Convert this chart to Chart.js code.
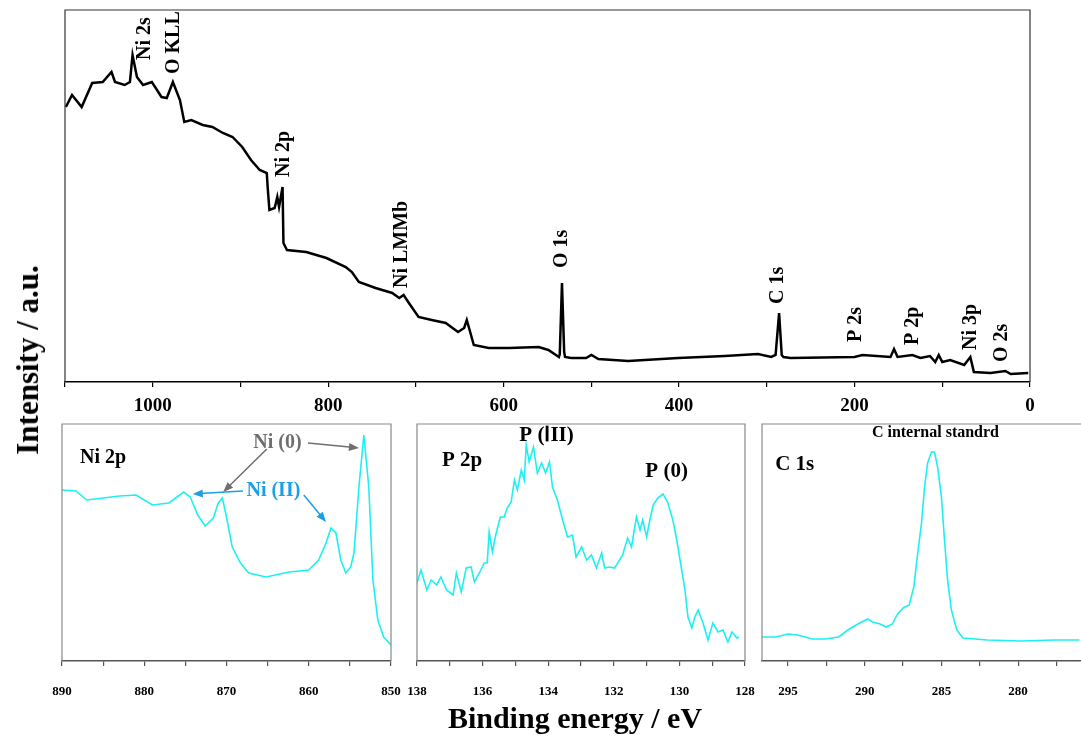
<!DOCTYPE html>
<html>
<head>
<meta charset="utf-8">
<script src="https://cdn.jsdelivr.net/npm/chart.js@4/dist/chart.umd.min.js"></script>
<style>
html, body { margin: 0; padding: 0; background: #fff; overflow: hidden; }
#wrap { position: relative; width: 1081px; height: 737px; }
canvas { position: absolute; left: 0; top: 0; }
.title { position: absolute; font-family: "Liberation Serif", serif; font-weight: bold; color: #000; white-space: nowrap; }
#ytitle { left: 28px; top: 360px; font-size: 31px; transform: translate(-50%, -50%) rotate(-90deg); }
#xtitle { left: 575px; top: 718px; font-size: 30px; transform: translate(-50%, -50%); }
</style>
</head>
<body>
<div id="wrap">
  <canvas id="survey" width="1081" height="737"></canvas>
  <canvas id="ni2p" width="1081" height="737"></canvas>
  <canvas id="p2p" width="1081" height="737"></canvas>
  <canvas id="c1s" width="1081" height="737"></canvas>
  <div class="title" id="ytitle">Intensity / a.u.</div>
  <div class="title" id="xtitle">Binding energy / eV</div>
</div>
<script>
// survey spectrum (eV, a.u.)
var surveyEnergy = [1099, 1092, 1081, 1069, 1057, 1047, 1043, 1032, 1026, 1023, 1018, 1011, 1001, 990, 984, 977, 969, 964, 956, 943, 932, 920, 909, 898, 888, 878, 870, 869, 867, 861, 858, 856, 853, 852, 851, 847, 825, 802, 780, 773, 765, 746, 727, 719, 714, 708, 697, 682, 666, 652, 645, 642, 634, 617, 594, 560, 549, 537, 536, 533.5, 531, 530, 523, 506, 500, 492, 458, 401, 348, 310, 295, 290, 286, 283, 281, 273, 200, 191, 159, 155, 151, 134, 125, 114, 108, 104, 100, 91, 75, 68, 64, 45, 28, 22, 2];
var surveyIntensity = [275, 287, 275, 299, 300, 310, 300, 297, 300, 327, 305, 297, 300, 285, 284, 300, 282, 260, 262, 257, 255, 249, 245, 235, 222, 212, 209, 195, 172, 174, 185, 175, 190, 195, 139, 132, 130, 124, 115, 110, 100, 94, 89, 84, 87, 79, 65, 62, 59, 50, 54, 62, 37, 34, 34, 35, 32, 25, 28, 99, 30, 25, 24, 24, 27, 23, 21, 24, 26, 28, 25, 27, 69, 27, 25, 24, 25, 27, 25, 33, 25, 27, 24, 26, 20, 27, 20, 22, 17, 25, 10, 9, 11, 8, 9];

// Ni 2p
var ni2pEnergy = [890, 888.3, 887, 885, 883, 881, 879, 877, 875.2, 874.4, 873.5, 872.6, 871.6, 871.0, 870.5, 870.1, 869.3, 868.3, 867.3, 865.2, 862.4, 860, 858.8, 857.9, 857.3, 856.7, 856.1, 855.5, 854.9, 854.5, 853.9, 853.3, 852.7, 852.2, 851.6, 850.9, 850.0];
var ni2pIntensity = [171, 170, 161, 163, 165, 166, 156, 158, 169, 164, 146, 135, 143, 158, 163, 148, 114, 98, 88, 84, 89, 91, 101, 118, 133, 128, 101, 88, 94, 108, 174, 226, 174, 81, 41, 24, 16];

// P 2p
var p2pEnergy = [138.0, 137.88, 137.7, 137.57, 137.4, 137.27, 137.1, 136.9, 136.8, 136.65, 136.5, 136.35, 136.25, 136.1, 135.95, 135.86, 135.8, 135.7, 135.6, 135.46, 135.34, 135.25, 135.13, 135.03, 134.94, 134.82, 134.73, 134.67, 134.58, 134.45, 134.33, 134.2, 134.08, 133.96, 133.87, 133.72, 133.56, 133.41, 133.26, 133.15, 132.98, 132.83, 132.68, 132.53, 132.37, 132.28, 132.13, 131.98, 131.88, 131.73, 131.58, 131.46, 131.31, 131.2, 131.12, 131.0, 130.9, 130.8, 130.66, 130.5, 130.36, 130.2, 130.08, 129.93, 129.83, 129.74, 129.62, 129.53, 129.43, 129.28, 129.13, 128.98, 128.82, 128.67, 128.52, 128.4, 128.25, 128.18];
var p2pIntensity = [78, 91, 71, 81, 76, 84, 71, 66, 88, 69, 93, 94, 79, 88, 98, 98, 129, 109, 126, 144, 144, 153, 159, 181, 171, 191, 181, 216, 199, 214, 188, 198, 188, 199, 174, 161, 141, 124, 126, 104, 114, 101, 106, 93, 108, 93, 94, 93, 98, 106, 123, 114, 144, 131, 141, 124, 141, 156, 163, 167, 159, 141, 121, 91, 71, 44, 33, 44, 51, 38, 21, 38, 29, 31, 19, 29, 23, 24];

// C 1s
var c1sEnergy = [296.7, 295.8, 295.0, 294.4, 293.4, 292.6, 291.7, 291.1, 290.45, 289.8, 289.5, 289.0, 288.6, 288.2, 287.9, 287.5, 287.1, 286.8, 286.6, 286.3, 286.1, 285.9, 285.65, 285.45, 285.25, 285.0, 284.8, 284.6, 284.35, 284.0, 283.6, 282.0, 279.8, 277.7, 276.0];
var c1sIntensity = [24, 24, 27, 26, 22, 22, 24, 31, 37, 42, 39, 37, 34, 37, 46, 53, 56, 74, 101, 138, 174, 198, 209, 209, 194, 164, 121, 81, 51, 31, 23, 21, 20, 21, 21];

var serif = '"Liberation Serif", "Times New Roman", serif';
var cyan = '#1ef0f0';

function pts(xs, ys) {
    return xs.map(function (x, i) { return { x: x, y: ys[i] }; });
}

function makeFrame(color, openRight) {
    return {
        id: 'frame',
        afterDraw: function (chart) {
            var a = chart.chartArea, c = chart.ctx;
            c.save();
            c.strokeStyle = color;
            c.lineWidth = 1.2;
            c.beginPath();
            c.moveTo(a.left, a.bottom);
            c.lineTo(a.left, a.top);
            c.lineTo(a.right, a.top);
            if (!openRight) c.lineTo(a.right, a.bottom);
            c.stroke();
            c.restore();
        }
    };
}

function makeNotes(items, arrows) {
    return {
        id: 'notes',
        afterDatasetsDraw: function (chart) {
            var c = chart.ctx, xs = chart.scales.x, ys = chart.scales.y;
            c.save();
            (arrows || []).forEach(function (a) {
                var x1 = xs.getPixelForValue(a.from[0]), y1 = ys.getPixelForValue(a.from[1]);
                var x2 = xs.getPixelForValue(a.to[0]), y2 = ys.getPixelForValue(a.to[1]);
                var ang = Math.atan2(y2 - y1, x2 - x1);
                c.strokeStyle = a.color;
                c.fillStyle = a.color;
                c.lineWidth = 1.5;
                c.beginPath();
                c.moveTo(x1, y1);
                c.lineTo(x2 - 7 * Math.cos(ang), y2 - 7 * Math.sin(ang));
                c.stroke();
                c.beginPath();
                c.moveTo(x2, y2);
                c.lineTo(x2 - 10 * Math.cos(ang) + 4 * Math.sin(ang), y2 - 10 * Math.sin(ang) - 4 * Math.cos(ang));
                c.lineTo(x2 - 10 * Math.cos(ang) - 4 * Math.sin(ang), y2 - 10 * Math.sin(ang) + 4 * Math.cos(ang));
                c.closePath();
                c.fill();
            });
            items.forEach(function (n) {
                c.save();
                c.font = 'bold ' + n.size + 'px ' + serif;
                c.fillStyle = n.color || '#000';
                c.textBaseline = 'middle';
                c.translate(xs.getPixelForValue(n.x), ys.getPixelForValue(n.y));
                if (n.rot) {
                    c.rotate(-Math.PI / 2);
                    c.textAlign = 'left';
                } else {
                    c.textAlign = n.align || 'center';
                }
                c.fillText(n.text, 0, 0);
                c.restore();
            });
            c.restore();
        }
    };
}

function xAxis(min, max, step, every, size, pad, height, color) {
    return {
        type: 'linear',
        min: min,
        max: max,
        reverse: true,
        afterFit: function (s) { s.height = height; },
        grid: { display: true, drawOnChartArea: false, drawTicks: true, tickLength: 5, color: color, lineWidth: 1.2 },
        border: { display: true, color: color, width: 1.5 },
        ticks: {
            stepSize: step,
            includeBounds: false,
            autoSkip: false,
            maxRotation: 0,
            padding: pad,
            color: '#000',
            font: { family: serif, weight: 'bold', size: size },
            callback: function (v) {
                var r = Math.abs(v / every - Math.round(v / every));
                return r < 1e-6 ? String(Math.round(v)) : '';
            }
        }
    };
}

function spectrum(id, xs, ys, lineColor, width, x, yMax, pad, plugins) {
    return new Chart(document.getElementById(id).getContext('2d'), {
        type: 'line',
        data: {
            datasets: [{
                data: pts(xs, ys),
                borderColor: lineColor,
                borderWidth: width,
                pointRadius: 0,
                tension: 0,
                fill: false
            }]
        },
        options: {
            responsive: false,
            animation: false,
            devicePixelRatio: 1,
            layout: { padding: pad },
            plugins: { legend: { display: false }, tooltip: { enabled: false } },
            scales: {
                x: x,
                y: { display: false, min: 0, max: yMax }
            }
        },
        plugins: plugins
    });
}

// main survey
spectrum('survey', surveyEnergy, surveyIntensity, '#000', 2.5,
    xAxis(0, 1100, 100, 200, 19, 8, 44, '#000'), 372,
    { left: 65, right: 51, top: 10, bottom: 311 },
    [makeFrame('#333', false), makeNotes([
        { text: 'Ni 2s', x: 1009, y: 322, size: 20, rot: true },
        { text: 'O KLL', x: 976, y: 308, size: 20, rot: true },
        { text: 'Ni 2p', x: 850, y: 205, size: 20, rot: true },
        { text: 'Ni LMMb', x: 716, y: 94, size: 20, rot: true },
        { text: 'O 1s', x: 534, y: 114, size: 20, rot: true },
        { text: 'C 1s', x: 287, y: 78, size: 20, rot: true },
        { text: 'P 2s', x: 199, y: 40, size: 20, rot: true },
        { text: 'P 2p', x: 134, y: 37, size: 20, rot: true },
        { text: 'Ni 3p', x: 68, y: 32, size: 20, rot: true },
        { text: 'O 2s', x: 32, y: 20, size: 20, rot: true }
    ])]);

var gray = '#6e6e6e', blue = '#1c9fe6';

spectrum('ni2p', ni2pEnergy, ni2pIntensity, cyan, 1.6,
    xAxis(850, 890, 5, 10, 13, 18, 34, '#555'), 237,
    { left: 62, right: 690, top: 424, bottom: 42 },
    [makeFrame('#888', false), makeNotes([
        { text: 'Ni 2p', x: 887.8, y: 203, size: 20, align: 'left' },
        { text: 'Ni (0)', x: 863.8, y: 218, size: 20, color: gray },
        { text: 'Ni (II)', x: 864.3, y: 170, size: 20, color: blue }
    ], [
        { from: [865.1, 212], to: [870.4, 169], color: gray },
        { from: [860.1, 218], to: [853.9, 213], color: gray },
        { from: [868.0, 170], to: [874.1, 167], color: blue },
        { from: [860.6, 166], to: [857.9, 139], color: blue }
    ])]);

spectrum('p2p', p2pEnergy, p2pIntensity, cyan, 1.6,
    xAxis(128, 138, 1, 2, 13, 18, 34, '#555'), 237,
    { left: 417, right: 336, top: 424, bottom: 42 },
    [makeFrame('#888', false), makeNotes([
        { text: 'P 2p', x: 137.24, y: 200, size: 21, align: 'left' },
        { text: 'P (ⅠII)', x: 134.05, y: 225, size: 21 },
        { text: 'P (0)', x: 130.39, y: 189, size: 21 }
    ])]);

spectrum('c1s', c1sEnergy, c1sIntensity, cyan, 1.6,
    xAxis(275.9, 296.7, 2.5, 5, 13, 18, 34, '#555'), 237,
    { left: 762, right: 0, top: 424, bottom: 42 },
    [makeFrame('#888', true), makeNotes([
        { text: 'C internal standrd', x: 285.39, y: 228, size: 16 },
        { text: 'C 1s', x: 295.84, y: 196, size: 21, align: 'left' }
    ])]);
</script>
</body>
</html>
